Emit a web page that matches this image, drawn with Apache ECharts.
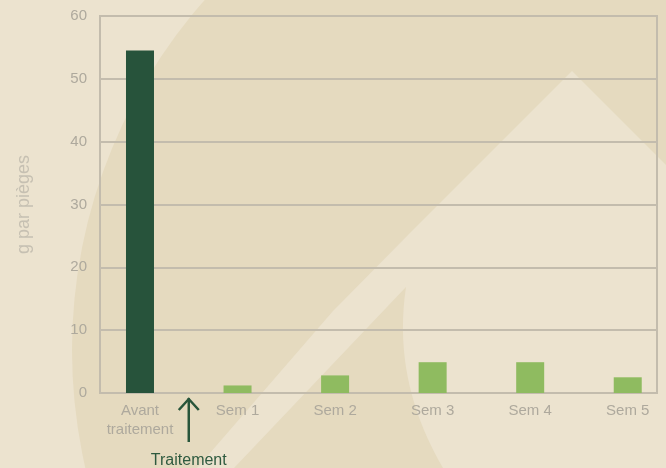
<!DOCTYPE html>
<html>
<head>
<meta charset="utf-8">
<script src="https://cdn.jsdelivr.net/npm/echarts@6/dist/echarts.min.js"></script>
<style>
html,body{margin:0;padding:0;background:#ece3cf;}
#c{width:666px;height:468px;}
</style>
</head>
<body>
<div id="c"></div>
<script>
var categories = ['Avant\ntraitement', 'Sem 1', 'Sem 2', 'Sem 3', 'Sem 4', 'Sem 5'];
var values = [54.5, 1.2, 2.8, 4.9, 4.9, 2.5];
var yTicks = [0, 10, 20, 30, 40, 50, 60];
var yName = 'g par pièges';
var markerLabel = 'Traitement';
var markerPosition = 0.5;

var FONT = 'Liberation Sans, Arial, sans-serif';
var chart = echarts.init(document.getElementById('c'), null, {renderer: 'canvas'});

// decorative leaf shape: straight left edge + curved right edge
function leafPoints() {
  var pts = [[406, 287], [234, 468], [443, 468]];
  var P0 = [443, 468], P1 = [415, 420], P2 = [395, 360], P3 = [406, 287];
  for (var k = 1; k <= 20; k++) {
    var t = k / 20, u = 1 - t;
    pts.push([
      u*u*u*P0[0] + 3*u*u*t*P1[0] + 3*u*t*t*P2[0] + t*t*t*P3[0],
      u*u*u*P0[1] + 3*u*u*t*P1[1] + 3*u*t*t*P2[1] + t*t*t*P3[1]
    ]);
  }
  return pts;
}

var bg = [
  {type: 'rect', z: -100, silent: true, shape: {x: 0, y: 0, width: 666, height: 468}, style: {fill: '#ece3cf'}},
  {type: 'circle', z: -99, silent: true, shape: {cx: 600, cy: 350, r: 528}, style: {fill: '#e5dabf'}},
  {type: 'polygon', z: -98, silent: true, shape: {points: [[572,71],[666,165],[666,468],[197,468],[333,311],[410,233]]}, style: {fill: '#ece3cf'}},
  {type: 'polygon', z: -97, silent: true, shape: {points: leafPoints()}, style: {fill: '#e5dabf'}}
];

chart.setOption({
  backgroundColor: 'transparent',
  animation: false,
  grid: {left: 100, right: 9, top: 16, bottom: 75, show: true, borderColor: '#c3bcad', borderWidth: 2, backgroundColor: 'transparent'},
  xAxis: {
    type: 'value',
    min: -0.41,
    max: 5.3,
    splitLine: {show: false},
    axisTick: {show: false},
    axisLine: {show: true, onZero: false, lineStyle: {color: '#c3bcad', width: 2}},
    axisLabel: {
      customValues: categories.map(function (c, i) { return i; }),
      formatter: function (v) { return categories[Math.round(v)] || ''; },
      color: '#aea99d',
      fontFamily: FONT,
      fontSize: 15,
      lineHeight: 19,
      margin: 8
    }
  },
  yAxis: {
    type: 'value',
    min: yTicks[0],
    max: yTicks[yTicks.length - 1],
    interval: 10,
    name: yName,
    nameLocation: 'middle',
    nameGap: 67,
    nameRotate: 90,
    nameTextStyle: {color: '#c6c0b2', fontFamily: FONT, fontSize: 18},
    axisLine: {show: true, onZero: false, lineStyle: {color: '#c3bcad', width: 2}},
    axisTick: {show: false},
    splitLine: {show: true, lineStyle: {color: '#c3bcad', width: 2}},
    axisLabel: {color: '#aea99d', fontFamily: FONT, fontSize: 15, margin: 13}
  },
  series: [{
    type: 'bar',
    barWidth: 28,
    data: values.map(function (v, i) {
      return {value: [i, v], itemStyle: {color: i === 0 ? '#27533b' : '#8fbb60'}};
    })
  }],
  graphic: bg
});

var ax = chart.convertToPixel({xAxisIndex: 0}, markerPosition);
var y0 = chart.convertToPixel({yAxisIndex: 0}, 0);
var tipY = y0 + 4;
var baseY = y0 + 49;
chart.setOption({
  graphic: bg.concat([
    {type: 'line', silent: true, z: 10, shape: {x1: ax, y1: tipY + 1, x2: ax, y2: baseY}, style: {stroke: '#28553a', lineWidth: 2.5}},
    {type: 'polyline', silent: true, z: 10, shape: {points: [[ax - 10, tipY + 13], [ax, tipY + 2], [ax + 10, tipY + 13]]}, style: {stroke: '#28553a', lineWidth: 2.5, fill: null}},
    {type: 'text', silent: true, z: 10, x: ax, y: baseY + 19, style: {text: markerLabel, fill: '#2e5a3f', font: '16px ' + FONT, align: 'center', verticalAlign: 'middle'}}
  ])
}, {replaceMerge: ['graphic']});
</script>
</body>
</html>
